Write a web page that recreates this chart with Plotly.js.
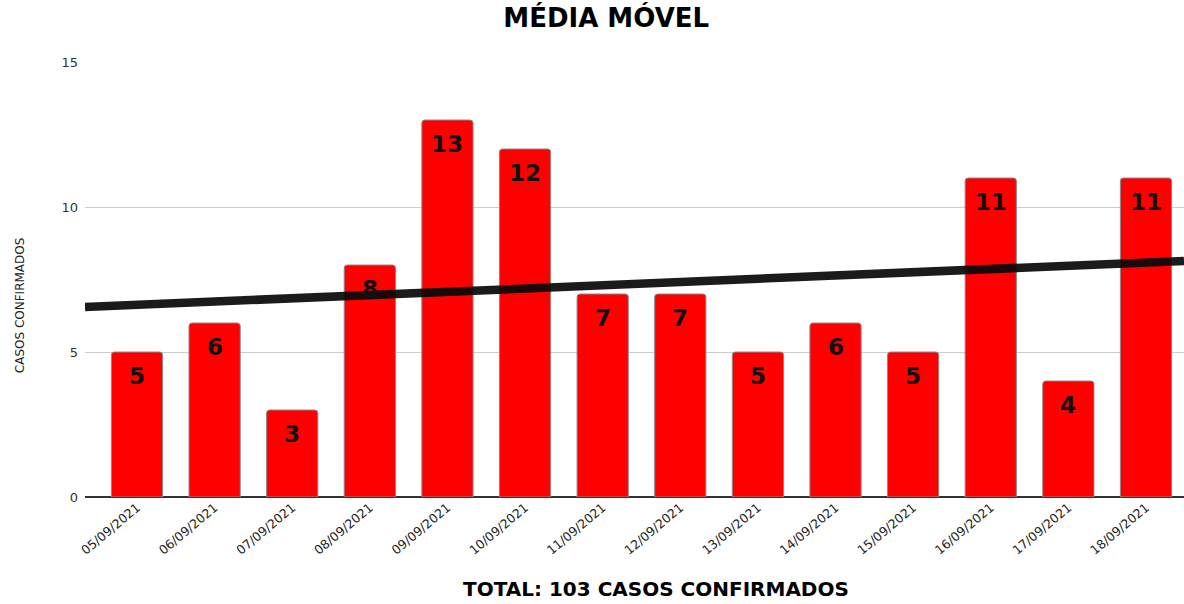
<!DOCTYPE html>
<html>
<head>
<meta charset="utf-8">
<script src="https://cdn.plot.ly/plotly-3.0.1.min.js"></script>
<style>html,body{margin:0;padding:0;background:#fff;}#chart{width:1184px;height:604px;}</style>
</head>
<body>
<div id="chart"></div>
<script>
const dates = ["05/09/2021","06/09/2021","07/09/2021","08/09/2021","09/09/2021","10/09/2021","11/09/2021","12/09/2021","13/09/2021","14/09/2021","15/09/2021","16/09/2021","17/09/2021","18/09/2021"];
const cases = [5,6,3,8,13,12,7,7,5,6,5,11,4,11];
const yTicks = [0,5,10,15];

const F = 'DejaVu Sans, Verdana, sans-serif';
const idx = dates.map((d,i)=>i);
// linear trend (least squares) of the series
const n = cases.length;
const mx = idx.reduce((a,b)=>a+b,0)/n;
const my = cases.reduce((a,b)=>a+b,0)/n;
let sxy=0, sxx=0;
for(let i=0;i<n;i++){sxy+=(idx[i]-mx)*(cases[i]-my); sxx+=(idx[i]-mx)*(idx[i]-mx);}
const slope = sxy/sxx, icpt = my - slope*mx;
const xr = [-0.67, 13.49];

const bars = {
  type:'bar', x: idx, y: cases, width: 0.66,
  marker:{color:'#ff0000', line:{color:'#8a8a8a', width:1}, cornerradius:3},
  hoverinfo:'none', showlegend:false
};
const trend = {
  type:'scatter', mode:'lines', x: xr, y: xr.map(x=>icpt+slope*x),
  line:{color:'rgba(10,10,10,0.93)', width:8.5}, hoverinfo:'none', showlegend:false
};
const labels = idx.map((x,i)=>({
  x: x, y: cases[i], xref:'x', yref:'y', text: '<b>'+cases[i]+'</b>', showarrow:false,
  yanchor:'middle', yshift:-24,
  font:{family:F, size:23, color:'#111'}
}));
labels.push({
  xref:'paper', yref:'paper', x:0.5196, y:-0.2, yanchor:'middle', yshift:-5, showarrow:false,
  text:'<b>TOTAL: 103 CASOS CONFIRMADOS</b>',
  font:{family:F, size:20, color:'#000'}
});
labels.push({
  xref:'paper', yref:'paper', x:0, y:0.441, xanchor:'center', yanchor:'middle', xshift:-65, showarrow:false,
  textangle:-90, text:'CASOS CONFIRMADOS',
  font:{family:F, size:12, color:'#222'}
});

const layout = {
  width:1184, height:604,
  margin:{l:85, r:0, t:62, b:107},
  paper_bgcolor:'#fff', plot_bgcolor:'#fff',
  title:{text:'<b>MÉDIA MÓVEL</b>', xref:'container', x:0.512, xanchor:'center', y:0.97, yanchor:'middle',
    font:{family:F, size:26, color:'#000'}},
  xaxis:{range:xr, tickmode:'array', tickvals:idx, ticktext:dates, tickangle:-40,
    showgrid:false, zeroline:false, showline:false, ticks:'',
    tickfont:{family:F, size:12.5, color:'#222'}},
  yaxis:{range:[0,15], tickmode:'array', tickvals:yTicks, showgrid:true, gridcolor:'#cccccc', gridwidth:1,
    zeroline:true, zerolinecolor:'#333', zerolinewidth:1.2, ticks:'', ticklen:0, ticklabelstandoff:6,
    tickfont:{family:F, size:13, color:'#333'}},
  annotations: labels,
  bargap:0.34
};
Plotly.newPlot('chart',[bars,trend],layout,{displayModeBar:false, staticPlot:true});
</script>
</body>
</html>
